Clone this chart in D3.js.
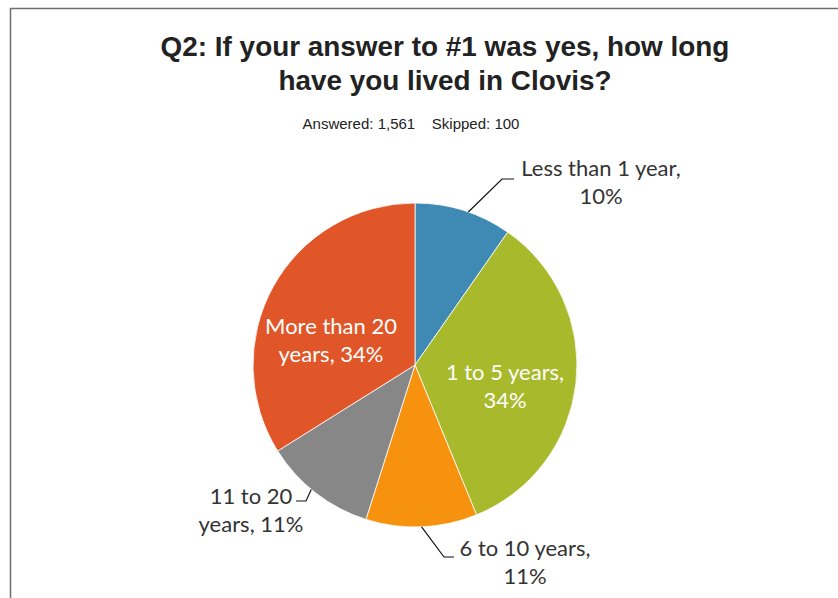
<!DOCTYPE html>
<html>
<head>
<meta charset="utf-8">
<script src="https://cdn.jsdelivr.net/npm/d3@7"></script>
<style>
html,body{margin:0;padding:0;background:#fff;}
svg{display:block;}
</style>
</head>
<body>
<svg id="chart" width="838" height="598"></svg>
<script>
const categories = ["Less than 1 year", "1 to 5 years", "6 to 10 years", "11 to 20 years", "More than 20 years"];
const values = [9.7, 34.1, 11.1, 11.2, 33.9];
const percentLabels = ["10%", "34%", "11%", "11%", "34%"];
const colors = ["#3f8ab5", "#a8b92b", "#f7920f", "#878787", "#e05629"];
const titleLines = ["Q2: If your answer to #1 was yes, how long", "have you lived in Clovis?"];
const subtitle = "Answered: 1,561    Skipped: 100";

const svg = d3.select("#chart");
const W = 838, H = 598;
const arialFont = "'Liberation Sans', Arial, sans-serif";

svg.append("rect").attr("x", 10.5).attr("y", 8.5).attr("width", W + 20).attr("height", H + 20)
  .attr("fill", "#fff").attr("stroke", "#6e6e6e").attr("stroke-width", 1.5);

titleLines.forEach((t, i) => {
  svg.append("text").attr("x", 445).attr("y", 56 + i * 34).attr("text-anchor", "middle")
    .attr("font-family", arialFont).attr("font-weight", "bold")
    .attr("font-size", 27.9).attr("fill", "#222").text(t);
});
svg.append("text").attr("x", 411).attr("y", 129).attr("text-anchor", "middle")
  .attr("font-family", arialFont).attr("font-size", 15)
  .attr("fill", "#222").style("white-space", "pre").text(subtitle);

const cx = 415, cy = 365, R = 162;
const pie = d3.pie().sort(null).value(d => d)(values);
const arc = d3.arc().innerRadius(0).outerRadius(R);
const g = svg.append("g").attr("transform", `translate(${cx},${cy})`);
g.selectAll("path").data(pie).enter().append("path")
  .attr("d", arc).attr("fill", (d, i) => colors[i])
  .attr("stroke", "#fff").attr("stroke-width", 0.8);

const labelFont = "Lato, 'Open Sans', sans-serif";
const labelLayout = [
  {lines: [categories[0] + ",", percentLabels[0]], x: 601, y: 176, fill: "#333"},
  {lines: [categories[1] + ",", percentLabels[1]], x: 505, y: 380, fill: "#fff"},
  {lines: [categories[2] + ",", percentLabels[2]], x: 525, y: 556, fill: "#333"},
  {lines: ["11 to 20", "years, 11%"], x: 251, y: 504, fill: "#333", xs: [251, 251]},
  {lines: ["More than 20", "years, 34%"], x: 331, y: 334, fill: "#fff"}
];
labelLayout.forEach((L) => {
  L.lines.forEach((t, j) => {
    svg.append("text").attr("x", L.xs ? L.xs[j] : L.x).attr("y", L.y + j * 28)
      .attr("text-anchor", "middle").attr("font-family", labelFont)
      .attr("font-size", 22).attr("fill", L.fill).text(t);
  });
});

function edgePoint(d, frac) {
  const a = d.startAngle + (d.endAngle - d.startAngle) * frac;
  return [cx + R * Math.sin(a), cy - R * Math.cos(a)];
}
const leaders = [
  {i: 0, frac: 0.55, pts: [[502, 179], [514, 179]]},
  {i: 2, frac: 0.5, pts: [[444, 557], [454, 557]]},
  {i: 3, frac: 0.55, pts: [[306, 501], [296, 501]]}
];
leaders.forEach(l => {
  const p0 = edgePoint(pie[l.i], l.frac);
  svg.append("path").attr("d", d3.line()([p0, ...l.pts]))
    .attr("fill", "none").attr("stroke", "#111").attr("stroke-width", 1.2);
});
</script>
</body>
</html>
